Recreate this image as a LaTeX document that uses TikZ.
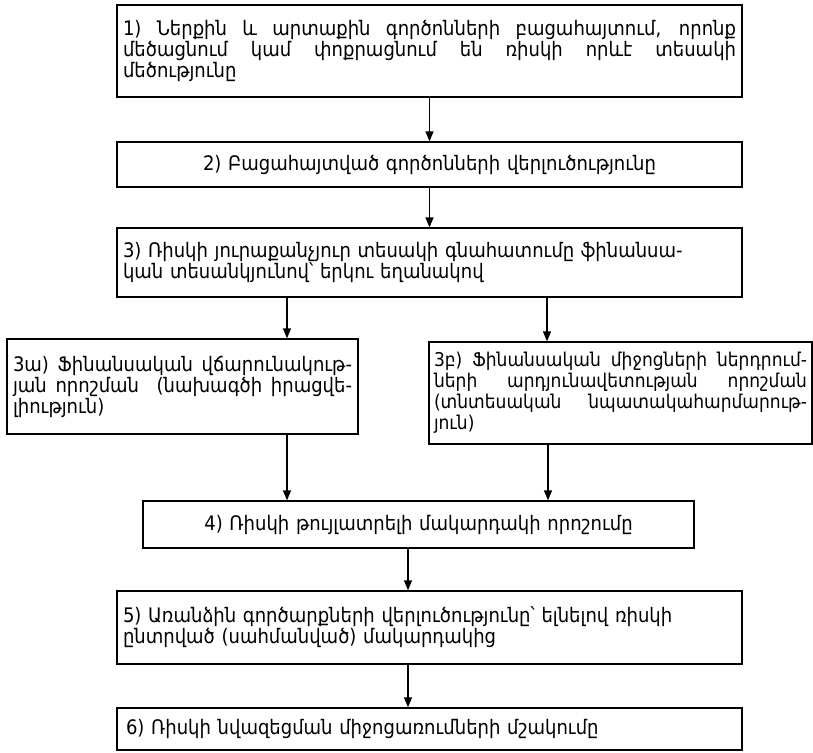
\documentclass[tikz,border=0pt]{standalone}
\usepackage{fontspec}
\setmainfont{DejaVu Sans}[FakeStretch=0.9]
\usepackage{tikz}
\usetikzlibrary{arrows.meta,positioning}

\begin{document}
\begin{tikzpicture}[
    box/.style={rectangle, draw, line width=1.3pt, inner xsep=6pt, inner ysep=4pt,
                font=\fontsize{20}{21}\selectfont},
    jbox/.style={box, align=justify},
    lbox/.style={box, align=left},
    cbox/.style={box, align=center},
    arrow/.style={-{Triangle[length=10pt,width=8pt]}, line width=1.3pt}
]
\useasboundingbox (0pt,0pt) rectangle (813pt,-752pt);

% Step 1
\node[jbox, minimum width=625pt, minimum height=92pt, text width=613pt] (b1) at (429.5pt,-51pt)
    {1) Ներքին և արտաքին գործոնների բացահայտում, որոնք\linebreak
     մեծացնում կամ փոքրացնում են ռիսկի որևէ տեսակի\linebreak
     մեծությունը};

% Step 2
\node[cbox, minimum width=625pt, minimum height=45pt, text width=613pt] (b2) at (429.5pt,-164.5pt)
    {2) Բացահայտված գործոնների վերլուծությունը};
\draw[arrow] (b1) -- (b2);

% Step 3
\node[lbox, minimum width=625pt, minimum height=69pt, text width=613pt] (b3) at (429.5pt,-262.5pt)
    {3) Ռիսկի յուրաքանչյուր տեսակի գնահատումը ֆինանսա-\\
     կան տեսանկյունով՝ երկու եղանակով};
\draw[arrow] (b2) -- (b3);

% Two ways
\node[jbox, minimum width=351pt, minimum height=95pt,
      text width=339pt] (b3a) at (182.5pt,-386.5pt)
    {3ա) Ֆինանսական վճարունակութ-\linebreak
     յան որոշման~ (նախագծի իրացվե-\linebreak
     լիություն)};
\node[jbox, font=\fontsize{19}{21}\selectfont, minimum width=383pt, minimum height=102pt,
      text width=373pt, inner xsep=5pt] (b3b) at (620.5pt,-393pt)
    {3բ) Ֆինանսական միջոցների ներդրում-\linebreak
     ների արդյունավետության որոշման\linebreak
     (տնտեսական նպատակահարմարութ-\linebreak
     յուն)};
\draw[arrow] (b3.south -| 287pt,0) -- (b3a.north -| 287pt,0);
\draw[arrow] (b3.south -| 547pt,0) -- (b3b.north -| 547pt,0);

% Step 4
\node[cbox, minimum width=551pt, minimum height=47pt, text width=539pt] (b4) at (418.5pt,-524.5pt)
    {4) Ռիսկի թույլատրելի մակարդակի որոշումը};
\draw[arrow] (b3a.south -| 287pt,0) -- (b4.north -| 287pt,0);
\draw[arrow] (b3b.south -| 548pt,0) -- (b4.north -| 548pt,0);

% Step 5
\node[lbox, minimum width=625pt, minimum height=73pt, text width=613pt] (b5) at (429.5pt,-627.5pt)
    {5) Առանձին գործարքների վերլուծությունը՝ ելնելով ռիսկի\\
     ընտրված (սահմանված) մակարդակից};
\draw[arrow] (b4.south -| 408pt,0) -- (b5.north -| 408pt,0);

% Step 6
\node[lbox, minimum width=625pt, minimum height=42pt, text width=613pt] (b6) at (429.5pt,-729pt)
    {\hspace*{3pt}6) Ռիսկի նվազեցման միջոցառումների մշակումը};
\draw[arrow] (b5.south -| 408pt,0) -- (b6.north -| 408pt,0);

\end{tikzpicture}
\end{document}
